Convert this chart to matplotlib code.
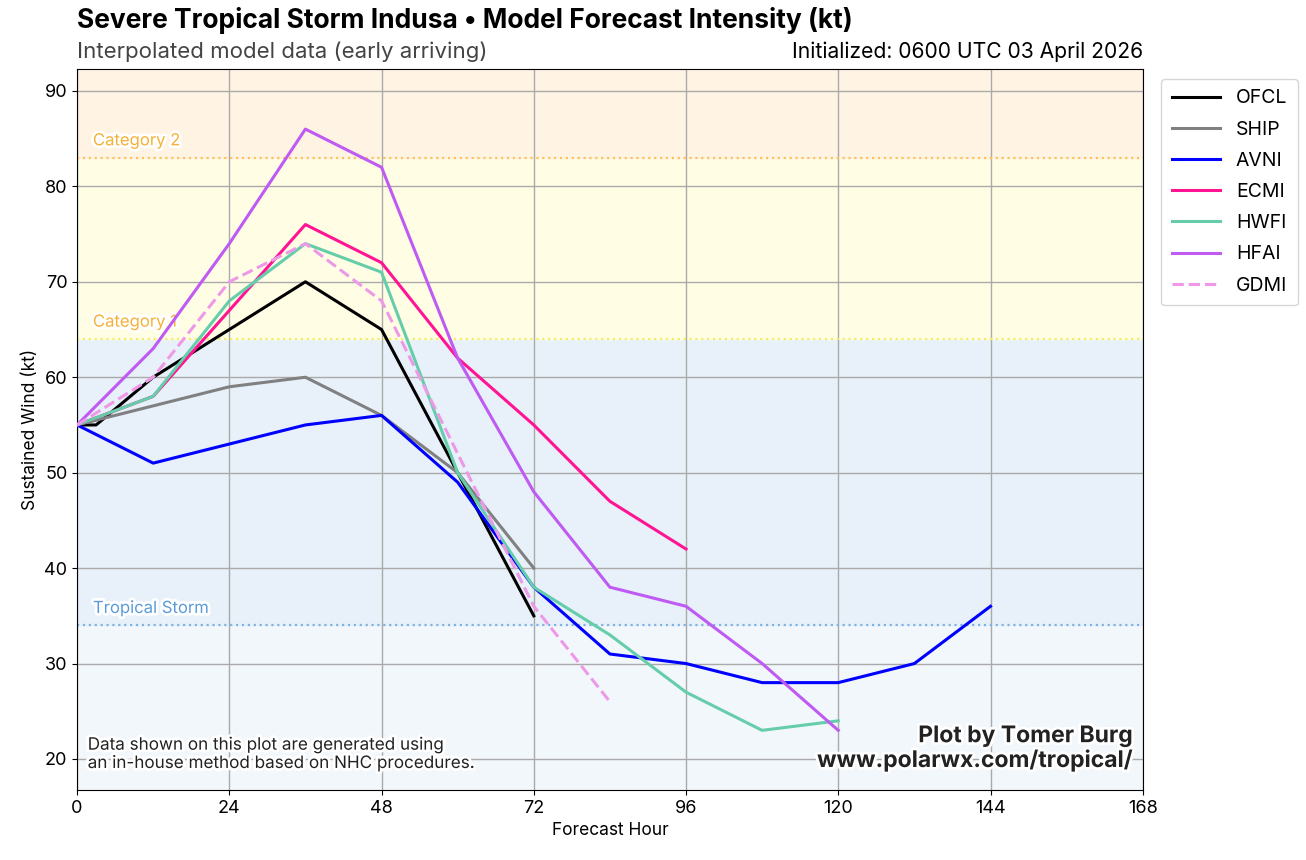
import numpy as np
import matplotlib
matplotlib.use("Agg")
import matplotlib.pyplot as plt
import matplotlib.patheffects as pe

plt.rcParams['font.family'] = ['Inter', 'DejaVu Sans']

# Forecast data (kt)
hours_ofcl = [0, 3, 12, 24, 36, 48, 60, 72]
ofcl = [55, 55, 60, 65, 70, 65, 50, 35]

hours_ship = [0, 12, 24, 36, 48, 60, 72]
ship = [55, 57, 59, 60, 56, 50, 40]

hours_avni = [0, 12, 24, 36, 48, 60, 72, 84, 96, 108, 120, 132, 144]
avni = [55, 51, 53, 55, 56, 49, 38, 31, 30, 28, 28, 30, 36]

hours_ecmi = [0, 12, 24, 36, 48, 60, 72, 84, 96]
ecmi = [55, 58, 67, 76, 72, 62, 55, 47, 42]

hours_hwfi = [0, 12, 24, 36, 48, 60, 72, 84, 96, 108, 120]
hwfi = [55, 58, 68, 74, 71, 50, 38, 33, 27, 23, 24]

hours_hfai = [0, 12, 24, 36, 48, 60, 72, 84, 96, 108, 120]
hfai = [55, 63, 74, 86, 82, 62, 48, 38, 36, 30, 23]

hours_gdmi = [0, 12, 24, 36, 48, 60, 72, 84]
gdmi = [55, 60, 70, 74, 68, 52, 36, 26]

xticks = [0, 24, 48, 72, 96, 120, 144, 168]

fig = plt.figure(figsize=(13.06, 8.6), dpi=100)
ax = fig.add_axes([0.059, 0.0814, 0.816, 0.8384])
ax.set_xlim(0, 168)
ax.set_ylim(16.75, 92.3)

# Intensity category shading
ax.axhspan(0, 34, color='#f2f7fc', zorder=0)
ax.axhspan(34, 64, color='#e8f1f9', zorder=0)
ax.axhspan(64, 83, color='#fffee5', zorder=0)
ax.axhspan(83, 100, color='#fff3e4', zorder=0)
ax.axhline(34, color='#7fb3e3', ls=':', lw=1.6, zorder=1)
ax.axhline(64, color='#f2ec6a', ls=':', lw=1.6, zorder=1)
ax.axhline(83, color='#fcc35a', ls=':', lw=1.6, zorder=1)

outline = [pe.withStroke(linewidth=4, foreground='white')]
ax.text(2.5, 35.3, 'Tropical Storm', color='#5a9bd8', fontsize=12, path_effects=outline, zorder=3)
ax.text(2.5, 65.3, 'Category 1', color='#f5b135', fontsize=12, path_effects=outline, zorder=3)
ax.text(2.5, 84.3, 'Category 2', color='#f5b135', fontsize=12, path_effects=outline, zorder=3)

ax.grid(True, color='#aaaaaa', lw=1, zorder=1)
ax.set_axisbelow(True)

ax.plot(hours_ofcl, ofcl, color='black', lw=2.2, label='OFCL', zorder=4)
ax.plot(hours_ship, ship, color='#808080', lw=2.2, label='SHIP', zorder=5)
ax.plot(hours_avni, avni, color='#0000ff', lw=2.2, label='AVNI', zorder=5)
ax.plot(hours_ecmi, ecmi, color='#ff1493', lw=2.2, label='ECMI', zorder=5)
ax.plot(hours_hwfi, hwfi, color='#66cdaa', lw=2.2, label='HWFI', zorder=5)
ax.plot(hours_hfai, hfai, color='#bf5af2', lw=2.2, label='HFAI', zorder=5)
ax.plot(hours_gdmi, gdmi, color='#ee99e8', lw=2.2, ls='--', label='GDMI', zorder=5)

ax.set_xticks(xticks)
ax.tick_params(labelsize=13)
ax.set_xlabel('Forecast Hour', fontsize=12.5)
ax.set_ylabel('Sustained Wind (kt)', fontsize=12.5)

leg = ax.legend(loc='upper left', bbox_to_anchor=(1.008, 1.0), fontsize=14,
                handlelength=2.5, borderpad=0.55, labelspacing=0.68)

ax.text(0.01, 0.025, 'Data shown on this plot are generated using\nan in-house method based on NHC procedures.',
        transform=ax.transAxes, fontsize=12.3, color='#222222', ha='left', va='bottom',
        linespacing=1.1, path_effects=outline, zorder=20)
ax.text(0.99, 0.025, 'Plot by Tomer Burg\nwww.polarwx.com/tropical/',
        transform=ax.transAxes, fontsize=16.5, fontweight='bold', color='#222222',
        ha='right', va='bottom', multialignment='right', linespacing=1.1,
        path_effects=outline, zorder=20)

fig.text(0.059, 0.96, 'Severe Tropical Storm Indusa \u2022 Model Forecast Intensity (kt)',
         fontsize=19, fontweight='bold', ha='left', va='bottom')
fig.text(0.059, 0.928, 'Interpolated model data (early arriving)', fontsize=16,
         color='#444444', ha='left', va='bottom')
fig.text(0.875, 0.928, 'Initialized: 0600 UTC 03 April 2026', fontsize=15.2,
         ha='right', va='bottom')

fig.savefig('out.png', dpi=100)
